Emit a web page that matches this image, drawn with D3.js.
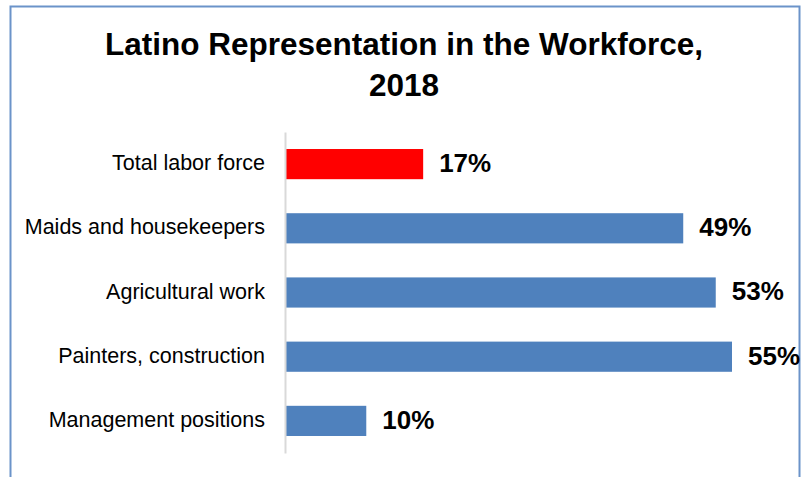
<!DOCTYPE html>
<html><head><meta charset="utf-8">
<script src="https://cdn.jsdelivr.net/npm/d3@7/dist/d3.min.js"></script>
<style>body{margin:0;background:#fff;} svg{display:block;}</style>
</head><body>
<svg id="chart" width="805" height="477"></svg>
<script>
const categories = ["Total labor force","Maids and housekeepers","Agricultural work","Painters, construction","Management positions"];
const values = [17,49,53,55,10];
const valueLabels = ["17%","49%","53%","55%","10%"];
const barColors = ["#ff0000","#4f81bd","#4f81bd","#4f81bd","#4f81bd"];
const titleLines = ["Latino Representation in the Workforce,","2018"];

const svg = d3.select("#chart");
const font = "'Liberation Sans', Arial, sans-serif";

svg.append("rect").attr("x",10.5).attr("y",6.5).attr("width",789).attr("height",480)
  .attr("fill","#fff").attr("stroke","#6b93c9").attr("stroke-width",2);

svg.append("g").selectAll("text").data(titleLines).join("text")
  .attr("x",404).attr("y",(d,i)=>55+i*41)
  .attr("text-anchor","middle").attr("font-family",font).attr("font-weight","bold")
  .attr("font-size",31.5).attr("fill","#000").text(d=>d);

const x0 = 285;
const x = d3.scaleLinear().domain([0,55]).range([x0, x0+447]);
const y = d3.scaleBand().domain(categories).range([132,453]).paddingInner(0.53).paddingOuter(0.265);

svg.append("g").selectAll("rect").data(values).join("rect")
  .attr("x",x(0)).attr("y",(d,i)=>y(categories[i]))
  .attr("width",d=>x(d)-x(0)).attr("height",y.bandwidth())
  .attr("fill",(d,i)=>barColors[i]);

const axis = d3.axisLeft(y).tickSize(0).tickPadding(20);
const ag = svg.append("g").attr("transform",`translate(${x0},0)`).call(axis);
ag.select(".domain").attr("stroke","#d9d9d9").attr("stroke-width",2);
ag.selectAll("text").attr("font-family",font).attr("font-size",21.5).attr("fill","#000").attr("dy","0.28em");

svg.append("g").selectAll("text").data(values).join("text")
  .attr("x",d=>x(d)+16).attr("y",(d,i)=>y(categories[i])+y.bandwidth()/2)
  .attr("dy","0.3em").attr("font-family",font).attr("font-weight","bold")
  .attr("font-size",26).attr("fill","#000").text((d,i)=>valueLabels[i]);
</script>
</body></html>
